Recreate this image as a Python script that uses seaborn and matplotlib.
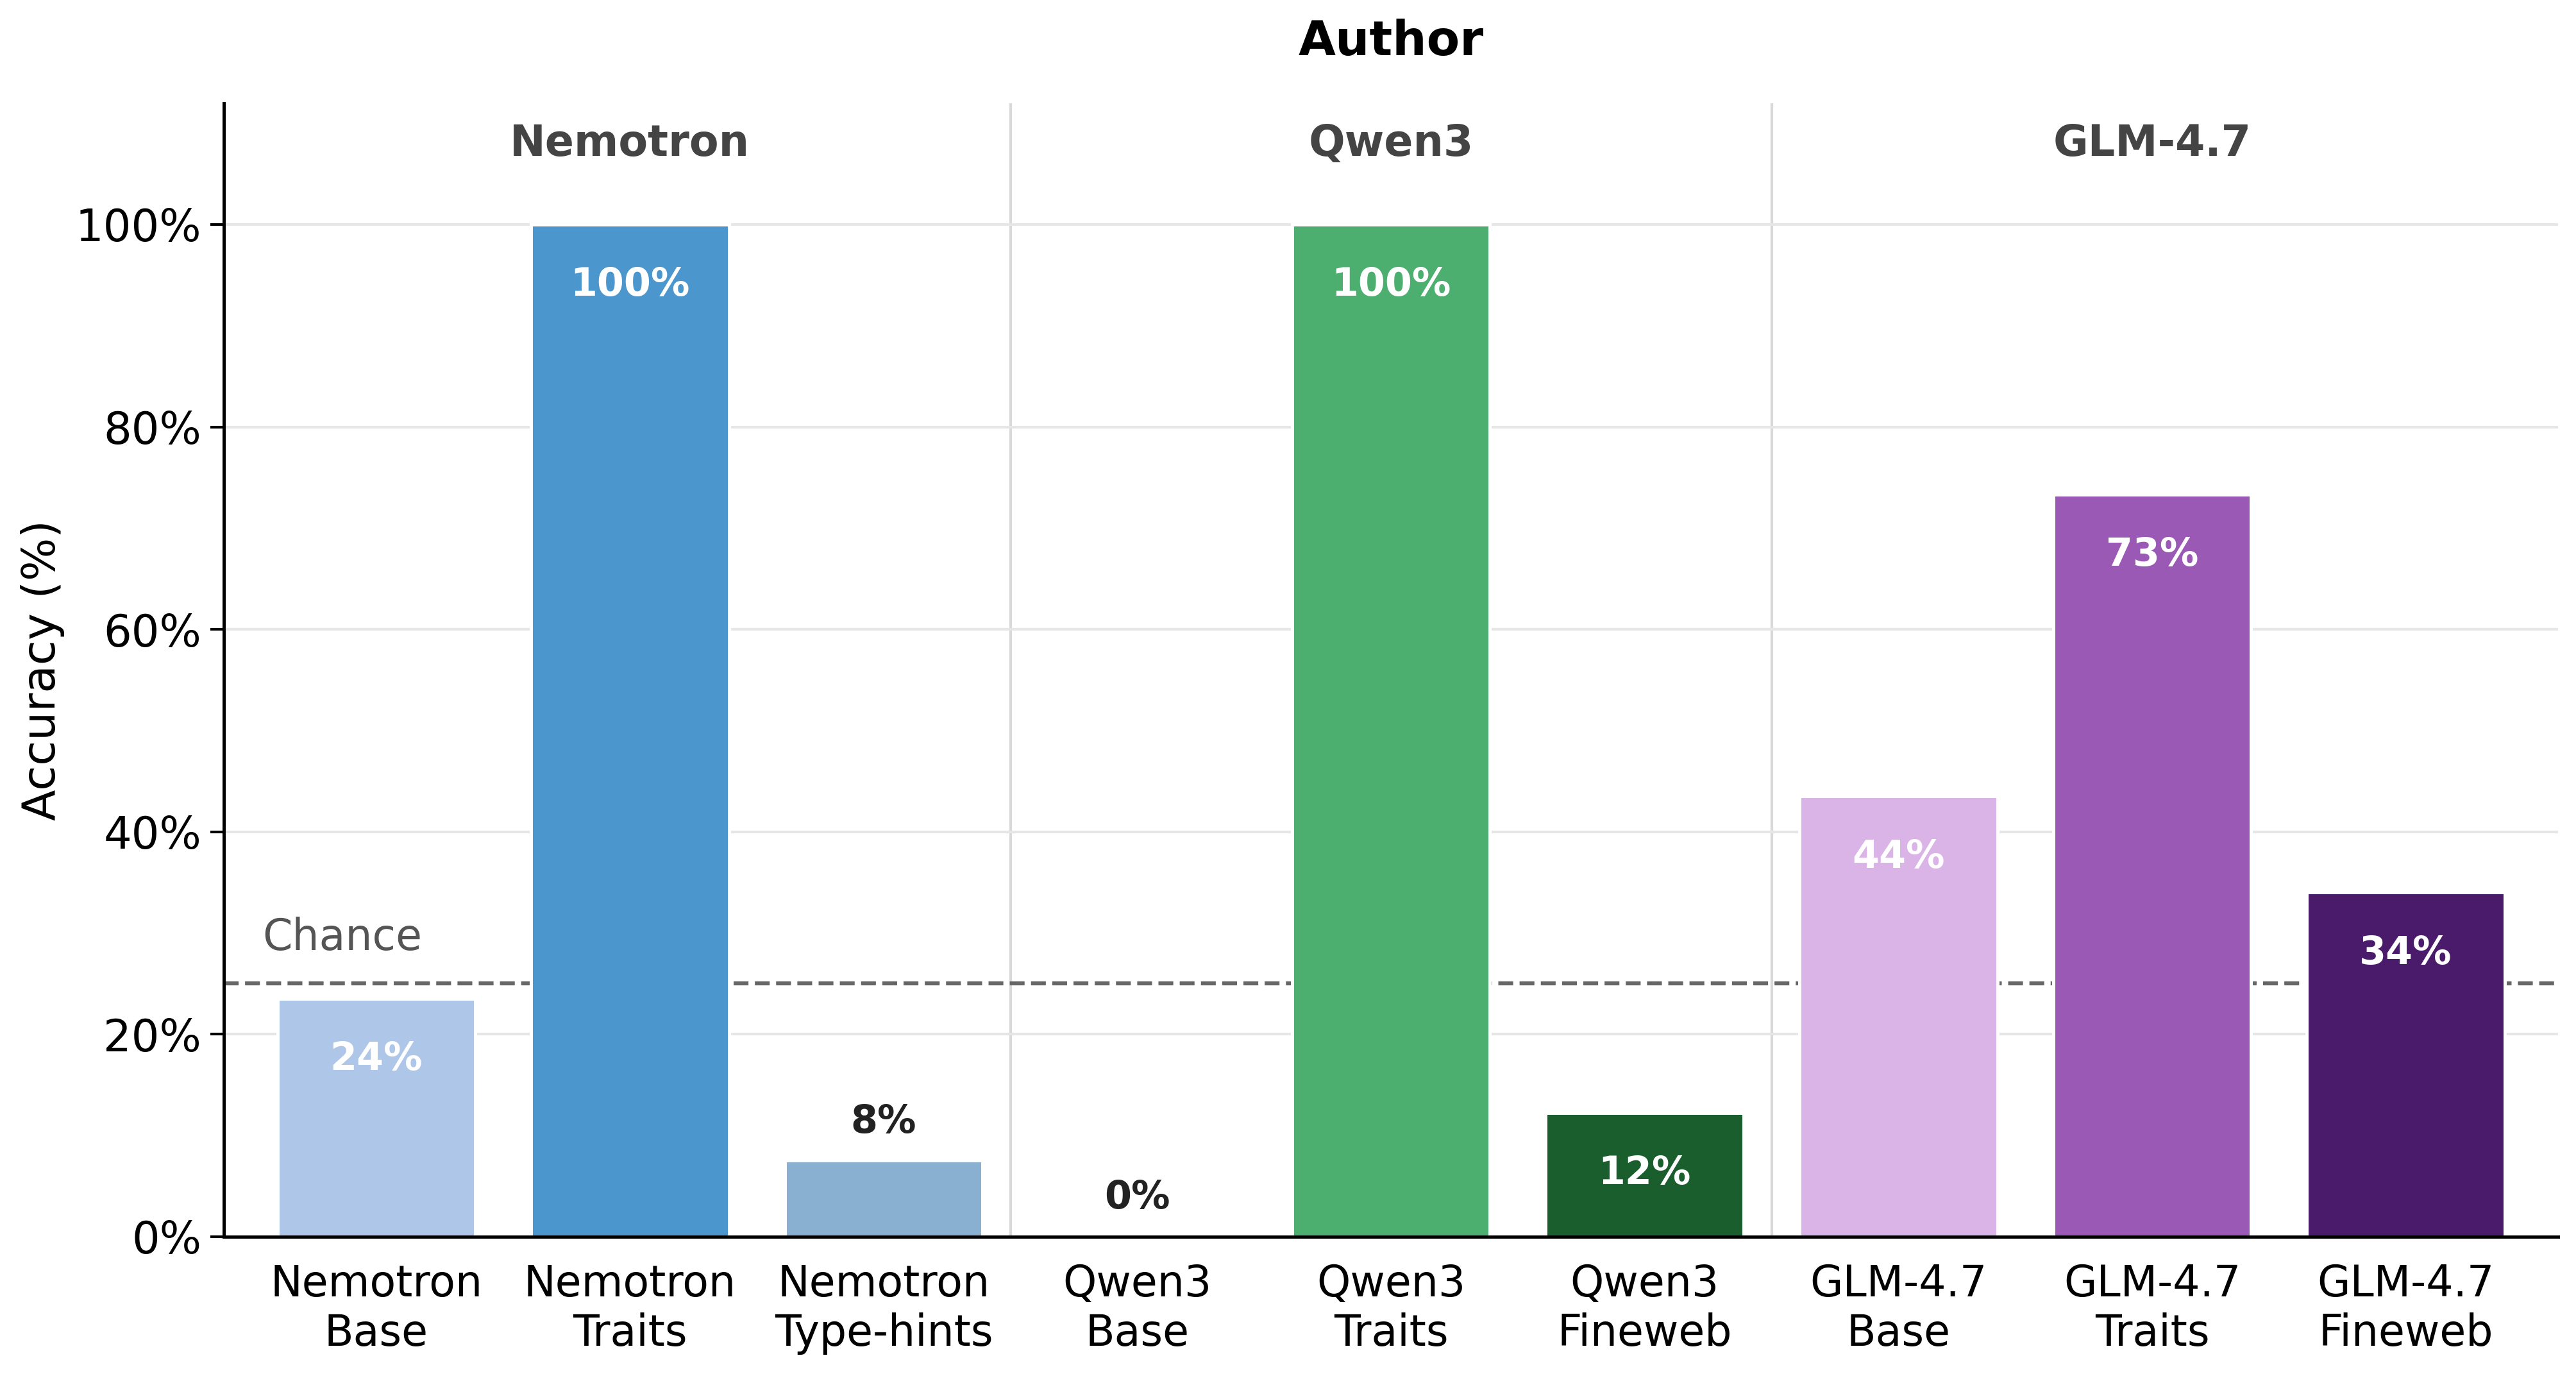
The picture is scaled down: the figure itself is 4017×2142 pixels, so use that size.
# bar chart of author accuracy per model variant (Nemotron / Qwen3 / GLM-4.7)
import matplotlib
matplotlib.use("Agg")
import matplotlib.pyplot as plt
import seaborn as sns
import pandas as pd

# data
labels = ["Nemotron\nBase", "Nemotron\nTraits", "Nemotron\nType-hints",
          "Qwen3\nBase", "Qwen3\nTraits", "Qwen3\nFineweb",
          "GLM-4.7\nBase", "GLM-4.7\nTraits", "GLM-4.7\nFineweb"]
accuracy = [23.5, 100.0, 7.5, 0.0, 100.0, 12.2, 43.5, 73.3, 34.0]
colors = ["#aec7e8", "#4c96ce", "#8ab0d1",
          "#a5d6a7", "#4daf6f", "#1b5e2e",
          "#dab4e7", "#9b59b6", "#4a1a6b"]
groups = ["Nemotron", "Qwen3", "GLM-4.7"]
chance = 25

sns.set_theme(style="white")
plt.rcParams["font.family"] = ["DejaVu Sans"]
plt.rcParams.update({"text.color": "black", "axes.labelcolor": "black",
                     "xtick.color": "black", "ytick.color": "black"})

df = pd.DataFrame({"label": labels, "acc": accuracy})

fig, ax = plt.subplots(figsize=(13.39, 7.14), dpi=300)
fig.subplots_adjust(left=0.087, right=0.993, bottom=0.1, top=0.925)

ax.set_axisbelow(True)
ax.yaxis.grid(True, color="#e6e6e6", linewidth=1.0)

# chance line sits behind the bars
ax.axhline(chance, linestyle="--", color="#666666", linewidth=1.5, zorder=1)
ax.text(-0.45, chance + 2.4, "Chance", fontsize=16, color="#555555", va="bottom", ha="left")

sns.barplot(data=df, x="label", y="acc", hue="label", palette=colors, legend=False,
            saturation=1, width=0.78, edgecolor="white", linewidth=1.2, zorder=2, ax=ax)

# separators between model families
for xs in [2.5, 5.5]:
    ax.axvline(xs, color="#d9d9d9", linewidth=1.0, zorder=0)

# value labels
for i, v in enumerate(accuracy):
    txt = f"{v:.0f}%"
    if v >= 10:
        ax.text(i, v - 6.0, txt, ha="center", va="center", color="white",
                fontsize=14.5, fontweight="bold", zorder=3)
    else:
        ax.text(i, v + 3.8, txt, ha="center", va="center", color="#222222",
                fontsize=14.5, fontweight="bold", zorder=3)

# family names at the top
for g, name in enumerate(groups):
    ax.text(g * 3 + 1, 108, name, ha="center", va="center", fontsize=16,
            fontweight="bold", color="#444444")

ax.set_xlim(-0.6, 8.6)
ax.set_ylim(0, 112)
ax.set_yticks([0, 20, 40, 60, 80, 100])
ax.set_yticklabels([f"{t}%" for t in [0, 20, 40, 60, 80, 100]])
ax.tick_params(axis="y", labelsize=16.5, length=5, width=1, left=True, color="black")
ax.tick_params(axis="x", labelsize=16, length=0, pad=10)
ax.set_xlabel("")
ax.set_ylabel("Accuracy (%)", fontsize=17)
ax.set_title("Author", fontsize=18, fontweight="bold", pad=18)

sns.despine(ax=ax)
for s in ["left", "bottom"]:
    ax.spines[s].set_color("black")
    ax.spines[s].set_linewidth(1.2)

fig.savefig("out.png", dpi=300)
